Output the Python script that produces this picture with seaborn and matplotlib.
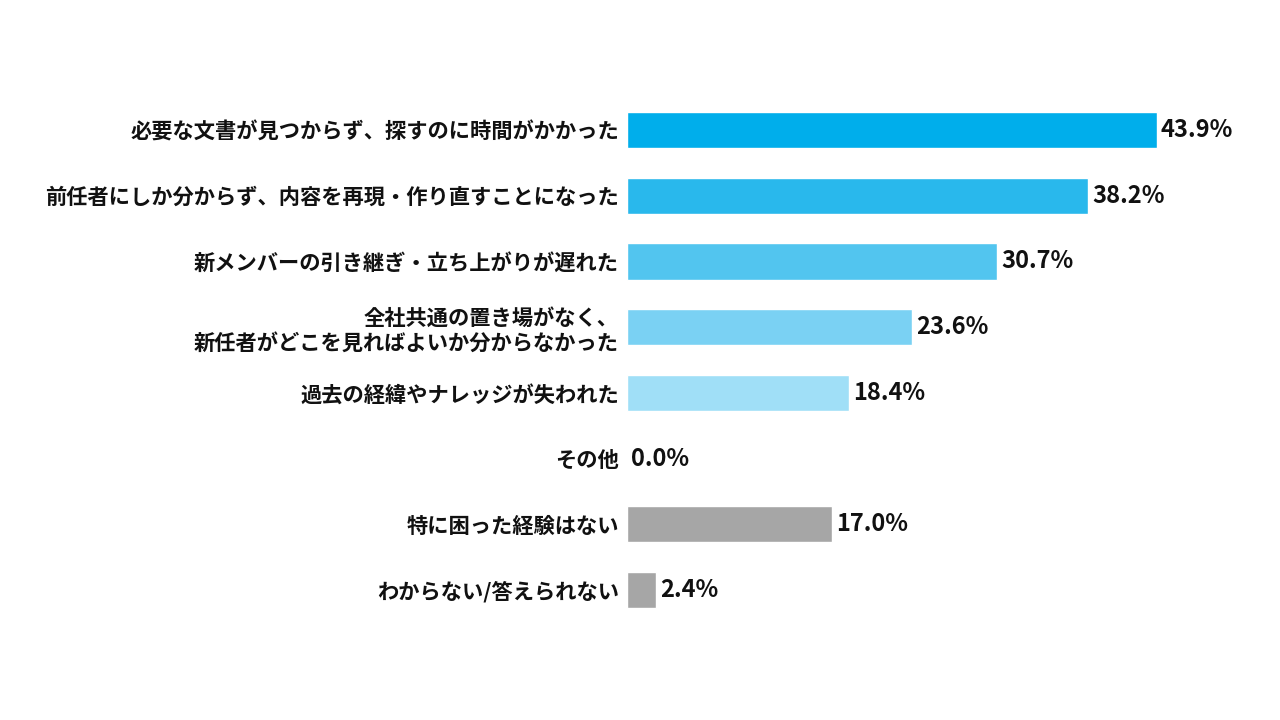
import matplotlib
matplotlib.use("Agg")
import matplotlib.pyplot as plt
import seaborn as sns
import pandas as pd

categories = [
    "必要な文書が見つからず、探すのに時間がかかった",
    "前任者にしか分からず、内容を再現・作り直すことになった",
    "新メンバーの引き継ぎ・立ち上がりが遅れた",
    "全社共通の置き場がなく、\n新任者がどこを見ればよいか分からなかった",
    "過去の経緯やナレッジが失われた",
    "その他",
    "特に困った経験はない",
    "わからない/答えられない",
]
values = [43.9, 38.2, 30.7, 23.6, 18.4, 0.0, 17.0, 2.4]
bar_colors = ["#00AEEB", "#29B8EC", "#52C5EF", "#7AD1F3", "#A0DFF7",
              "#A0DFF7", "#A6A6A6", "#A6A6A6"]

sns.set_theme(style="white")
plt.rcParams["font.family"] = ["Noto Sans CJK JP", "DejaVu Sans"]

df = pd.DataFrame({"item": categories, "pct": values})

fig = plt.figure(figsize=(12.8, 7.2), dpi=100)
ax = fig.add_axes([0.49, 0.135, 0.471, 0.73])

sns.barplot(data=df, x="pct", y="item", hue="item", palette=bar_colors,
            order=categories, hue_order=categories, legend=False,
            width=0.55, saturation=1, ax=ax)

for cont in ax.containers:
    ax.bar_label(cont, fmt="%.1f%%", padding=3, fontsize=17,
                 fontweight="bold", color="#111111")

ax.set_xlim(0, 50)
ax.set_xlabel("")
ax.set_ylabel("")
ax.set_xticks([])
ax.tick_params(axis="y", length=0, pad=6)
for lab in ax.get_yticklabels():
    lab.set_fontsize(15.3)
    lab.set_fontweight("bold")
    lab.set_color("#111111")
    lab.set_horizontalalignment("right")
    lab.set_multialignment("right")
sns.despine(ax=ax, left=True, bottom=True)

fig.savefig("out.png", dpi=100, facecolor="white")
